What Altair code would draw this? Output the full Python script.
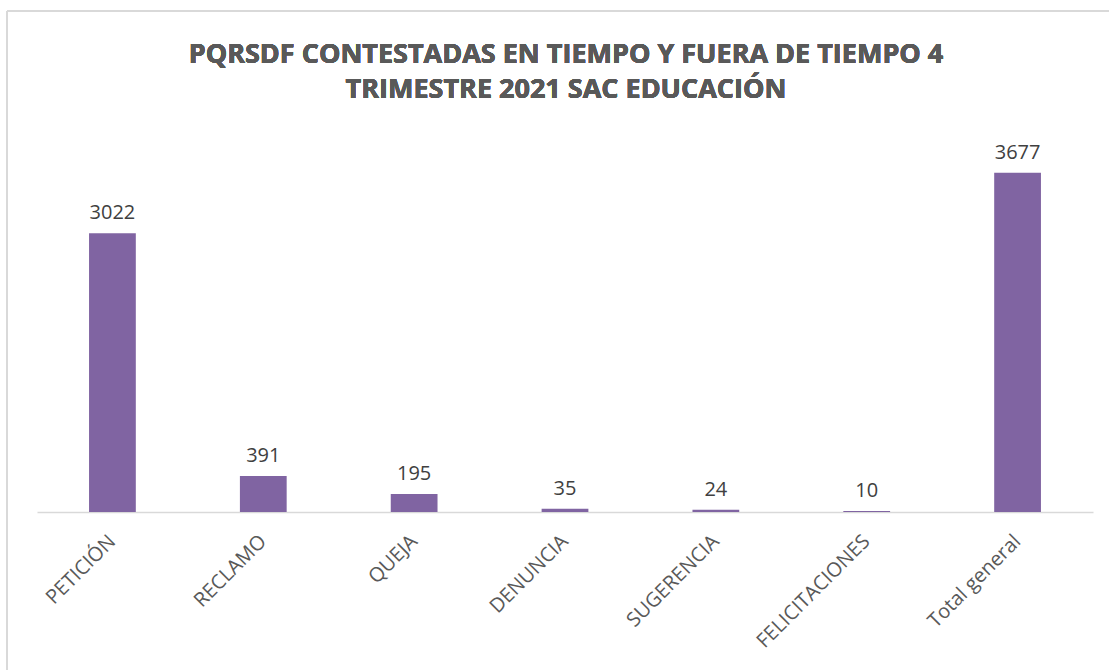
import altair as alt
import pandas as pd

categories = ["PETICIÓN", "RECLAMO", "QUEJA", "DENUNCIA", "SUGERENCIA", "FELICITACIONES", "Total general"]
values = [3022, 391, 195, 35, 24, 10, 3677]
title_lines = ["PQRSDF CONTESTADAS EN TIEMPO Y FUERA DE TIEMPO 4", "TRIMESTRE 2021 SAC EDUCACIÓN"]

df = pd.DataFrame({"cat": categories, "val": values})

x_enc = alt.X("cat:N", sort=categories,
              scale=alt.Scale(paddingInner=0.69, paddingOuter=0.345),
              axis=alt.Axis(title=None, labelAngle=-45, labelFont="Open Sans",
                            labelFontSize=20, labelColor="#595959", labelPadding=26,
                            ticks=False, domainColor="#D9D9D9", domainWidth=1.5,
                            labelAlign="right", labelBaseline="middle"))
y_enc = alt.Y("val:Q", scale=alt.Scale(domain=[0, 4000], nice=False), axis=None)

base = alt.Chart(df)
bars = base.mark_bar(color="#8064A2").encode(x=x_enc, y=y_enc)
text = base.mark_text(dy=-14, baseline="alphabetic", font="Open Sans", fontSize=20,
                      color="#404040").encode(x=x_enc, y=y_enc, text="val:Q")

frame_left = alt.Chart(df).mark_rule(color="#D9D9D9", strokeWidth=2).encode(
    x=alt.value(-30), y=alt.value(-132), y2=alt.value(530))
frame_top = alt.Chart(df).mark_rule(color="#D9D9D9", strokeWidth=2).encode(
    x=alt.value(-30), x2=alt.value(1075), y=alt.value(-132))

title1 = alt.Chart(df).mark_text(font="Open Sans", fontSize=27, fontWeight="bold",
                                 color="#595959", baseline="alphabetic").encode(
    x=alt.value(529), y=alt.value(-80), text=alt.value(title_lines[0]))
title2 = alt.Chart(df).mark_text(font="Open Sans", fontSize=27, fontWeight="bold",
                                 color="#595959", baseline="alphabetic").encode(
    x=alt.value(529), y=alt.value(-45), text=alt.value(title_lines[1]))

chart = alt.layer(frame_left, frame_top, title1, title2, bars, text).properties(
    width=1056, height=369,
    background="white",
    autosize=alt.AutoSizeParams(type="none"),
    padding={"left": 37, "top": 143, "right": 16, "bottom": 158},
).configure_view(strokeWidth=0, stroke="transparent")

chart.save("out.html", embed_options={"renderer": "svg", "actions": False})
